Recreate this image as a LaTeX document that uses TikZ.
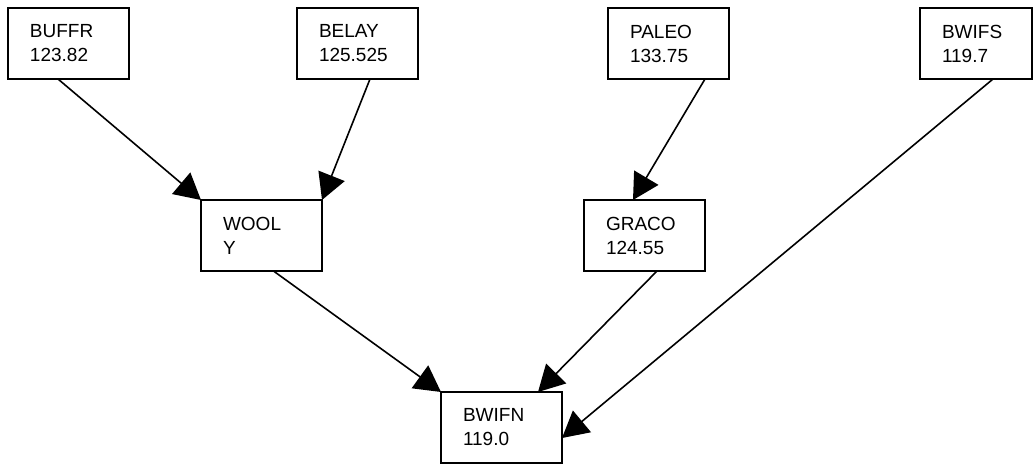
\documentclass[tikz,border=0pt]{standalone}
\usepackage{fontspec}
\setmainfont{Liberation Sans}
\usepackage{tikz}
\usetikzlibrary{arrows.meta,positioning}

\begin{document}
\begin{tikzpicture}[x=1pt, y=-1pt,
    box/.style={draw, line width=2pt, anchor=north west, outer sep=0pt,
      minimum width=121pt, minimum height=71pt, inner xsep=22pt,
      text width=77pt, align=left, font=\fontsize{19}{24}\selectfont},
    link/.style={line width=1.6pt, -{Triangle[length=26pt, width=28pt]}}]
    \useasboundingbox (0,0) rectangle (1034,464);
    % Boxes
    \node[box] (buffr) at (8,8) {BUFFR\\123.82};
    \node[box] (belay) at (297,8) {BELAY\\125.525};
    \node[box] (paleo) at (608,8) {PALEO\\133.75};
    \node[box, minimum width=112pt, text width=68pt] (bwifs) at (920,8) {BWIFS\\119.7};
    \node[box] (wooly) at (201,200) {WOOL\\Y};
    \node[box] (graco) at (584,200) {GRACO\\124.55};
    \node[box] (bwifn) at (441,392) {BWIFN\\119.0};

    % Arrows
    \draw[link] ([xshift=-10.5pt]buffr.south) -- (wooly.north west);
    \draw[link] ([xshift=12.5pt]belay.south) -- (wooly.north east);
    \draw[link] ([xshift=36.5pt]paleo.south) -- ([xshift=-11.5pt]graco.north);
    \draw[link] ([xshift=73pt]bwifs.south west) -- ([yshift=-10.5pt]bwifn.east);
    \draw[link] ([xshift=12pt]wooly.south) -- (bwifn.north west);
    \draw[link] ([xshift=12.5pt]graco.south) -- ([xshift=36.5pt]bwifn.north);
\end{tikzpicture}
\end{document}
